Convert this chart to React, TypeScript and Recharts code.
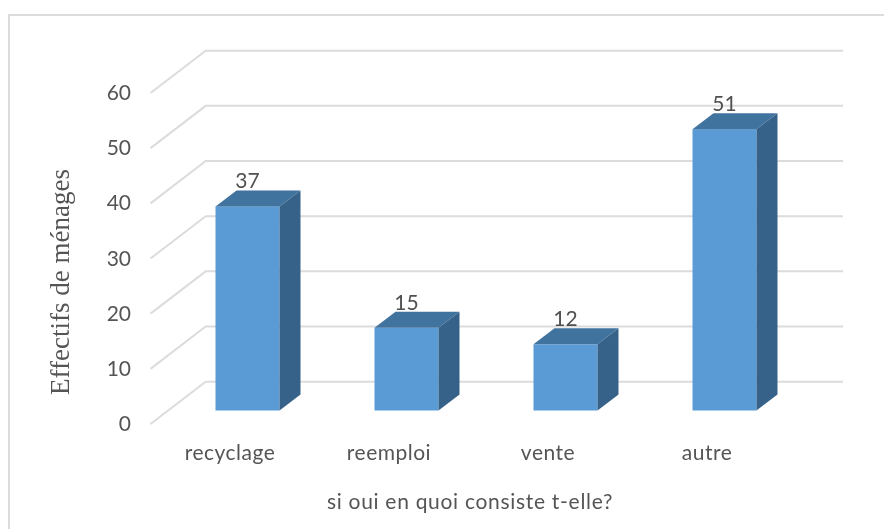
import { Bar, BarChart, CartesianGrid, XAxis, YAxis } from 'recharts'

const categories = ['recyclage', 'reemploi', 'vente', 'autre']
const effectifs = [37, 15, 12, 51]
const yTicks = [0, 10, 20, 30, 40, 50, 60]

const chartData = categories.map((name, i) => ({ name, effectifs: effectifs[i] }))

const LABEL_FONT = 'Lato, sans-serif'
const TEXT_COLOR = '#555555'
const GRID_COLOR = '#dcdcdc'

// Depth of the 3D look: bars are shallower than the wall behind them.
const BAR_DX = 21
const BAR_DY = 16

function Bar3D({ x, y, width, height }: any) {
  const r = x + width
  const b = y + height
  return (
    <g>
      <rect x={x} y={y} width={width} height={height} fill="#5b9bd5" />
      <polygon
        points={`${x},${y} ${x + BAR_DX},${y - BAR_DY} ${r + BAR_DX},${y - BAR_DY} ${r},${y}`}
        fill="#41739f"
      />
      <polygon
        points={`${r},${y} ${r + BAR_DX},${y - BAR_DY} ${r + BAR_DX},${b - BAR_DY} ${r},${b}`}
        fill="#36628a"
      />
    </g>
  )
}

// One gridline: a diagonal on the side wall, then a run along the back wall.
function WallLine({ y1 }: any) {
  const pts = `150.5,${y1 + 13.5} 205.7,${y1 - 28.8} 843,${y1 - 28.8}`
  return <polyline points={pts} fill="none" stroke={GRID_COLOR} strokeWidth={2} />
}

function YTick({ y, payload }: any) {
  return (
    <text
      x={131}
      y={y + 12}
      textAnchor="end"
      dominantBaseline="central"
      fontFamily={LABEL_FONT}
      fontSize={21}
      fill={TEXT_COLOR}
    >
      {payload.value}
    </text>
  )
}

function XTick({ x, y, payload }: any) {
  return (
    <text
      x={x - 17}
      y={y + 33}
      textAnchor="middle"
      dominantBaseline="central"
      fontFamily={LABEL_FONT}
      fontSize={21}
      letterSpacing={0.5}
      fill={TEXT_COLOR}
    >
      {payload.value}
    </text>
  )
}

export default function App() {
  return (
    <div
      style={{
        position: 'absolute',
        left: 0,
        top: 0,
        width: 884,
        height: 529,
        background: '#fff',
        overflow: 'hidden',
        filter: 'blur(0.5px)',
      }}
    >
      <div
        style={{
          position: 'absolute',
          left: 8,
          top: 14,
          right: 0,
          bottom: 0,
          borderLeft: '2px solid #dcdcdc',
          borderTop: '2px solid #dcdcdc',
        }}
      />
      <BarChart
        width={884}
        height={529}
        data={chartData}
        margin={{ top: 79.5, right: 80.5, bottom: 58.5, left: 107.5 }}
        style={{ position: 'absolute', left: 0, top: 0 }}
      >
        <CartesianGrid vertical={false} horizontal={(p: any) => <WallLine key={p.key} y1={p.y1} />} />
        <XAxis
          dataKey="name"
          height={60}
          axisLine={false}
          tickLine={false}
          tick={<XTick />}
          interval={0}
          label={{
            value: 'si oui en quoi consiste t-elle?',
            position: 'insideBottom',
            offset: -38,
            dx: -15.5,
            fill: TEXT_COLOR,
            fontFamily: LABEL_FONT,
            fontSize: 21,
            letterSpacing: 0.7,
          }}
        />
        <YAxis
          width={60}
          domain={[0, 60]}
          ticks={yTicks}
          axisLine={false}
          tickLine={false}
          tick={<YTick />}
          label={{
            value: 'Effectifs de ménages',
            angle: -90,
            position: 'insideLeft',
            dx: -53,
            dy: 150,
            fill: '#555555',
            fontFamily: '"Liberation Serif", serif',
            fontSize: 27,
          }}
        />
        <Bar
          dataKey="effectifs"
          barSize={64}
          shape={<Bar3D />}
          isAnimationActive={false}
          label={{ position: 'top', offset: 18, fill: '#505050', fontFamily: LABEL_FONT, fontSize: 21 }}
        />
      </BarChart>
    </div>
  )
}
